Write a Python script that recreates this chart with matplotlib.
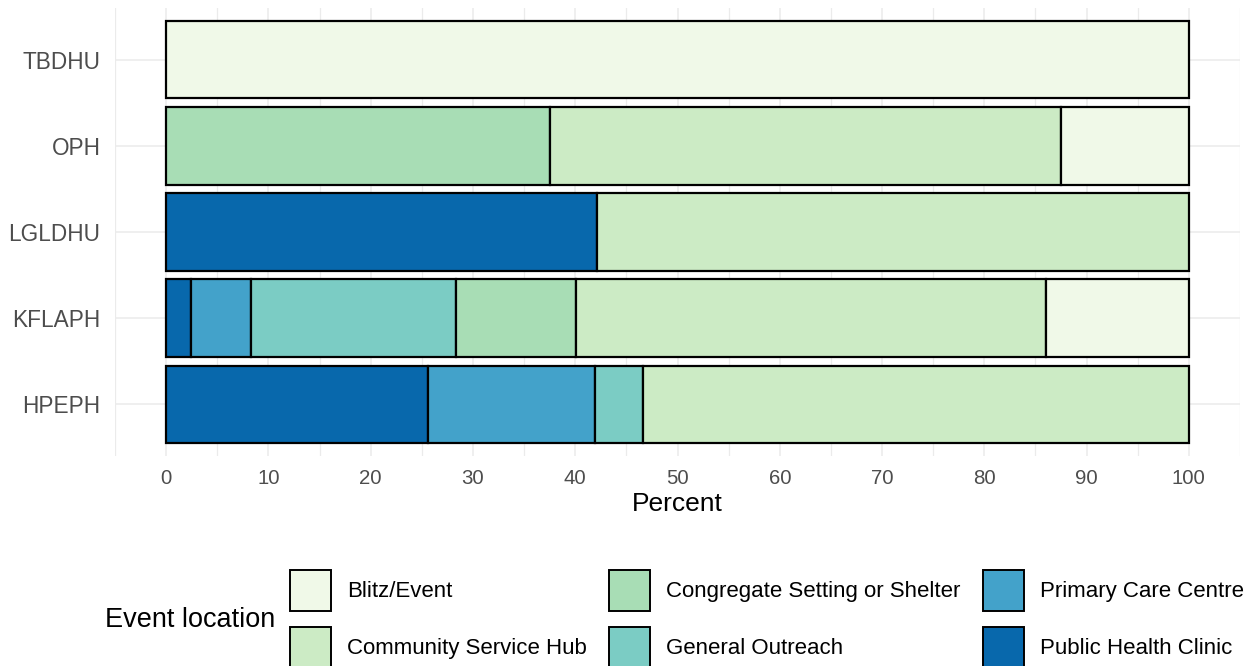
import numpy as np
import matplotlib
matplotlib.use("Agg")
import matplotlib.pyplot as plt
from matplotlib.patches import Patch

plt.rcParams['font.family'] = ['Liberation Sans', 'DejaVu Sans']

# ---- data ----
units = ["HPEPH", "KFLAPH", "LGLDHU", "OPH", "TBDHU"]  # bottom -> top
public_health_clinic = [25.6, 2.4, 42.1, 0.0, 0.0]
primary_care_centre = [16.3, 5.9, 0.0, 0.0, 0.0]
general_outreach = [4.7, 20.0, 0.0, 0.0, 0.0]
congregate_setting = [0.0, 11.8, 0.0, 37.5, 0.0]
community_service_hub = [53.4, 45.9, 57.9, 50.0, 0.0]
blitz_event = [0.0, 14.0, 0.0, 12.5, 100.0]

# stacking order left -> right
stack_names = ["Public Health Clinic", "Primary Care Centre", "General Outreach",
               "Congregate Setting or Shelter", "Community Service Hub", "Blitz/Event"]
stack_values = [public_health_clinic, primary_care_centre, general_outreach,
                congregate_setting, community_service_hub, blitz_event]
colors = {
    "Blitz/Event": "#f0f9e8",
    "Community Service Hub": "#ccebc5",
    "Congregate Setting or Shelter": "#a8ddb5",
    "General Outreach": "#7bccc4",
    "Primary Care Centre": "#43a2ca",
    "Public Health Clinic": "#0868ac",
}
legend_order = ["Blitz/Event", "Community Service Hub", "Congregate Setting or Shelter",
                "General Outreach", "Primary Care Centre", "Public Health Clinic"]
x_ticks = [0, 10, 20, 30, 40, 50, 60, 70, 80, 90, 100]

# ---- figure ----
W, H = 1259, 666
fig = plt.figure(figsize=(W / 100, H / 100), dpi=100)
ax = fig.add_axes([115 / W, 1 - 456 / H, 1125 / W, 448 / H])

ypos = np.arange(len(units))
left = np.zeros(len(units))
for name, vals in zip(stack_names, stack_values):
    vals = np.asarray(vals, dtype=float)
    m = vals > 0
    ax.barh(ypos[m], vals[m], left=left[m], height=0.9, color=colors[name],
            edgecolor="black", linewidth=1.6, zorder=3)
    left += vals

ax.set_xlim(-5, 105)
ax.set_ylim(-0.6, len(units) - 0.4)
ax.set_xticks(x_ticks)
ax.set_xticks(np.arange(-5, 106, 10), minor=True)
ax.set_yticks(ypos)
ax.set_yticklabels(units)
ax.grid(True, which="major", axis="both", color="#ebebeb", linewidth=1.1, zorder=0)
ax.grid(True, which="minor", axis="x", color="#ebebeb", linewidth=0.9, zorder=0)
for s in ax.spines.values():
    s.set_visible(False)
ax.tick_params(axis="both", which="both", length=0, labelcolor="#4d4d4d")
ax.tick_params(axis="x", labelsize=14.7, pad=9)
ax.tick_params(axis="y", labelsize=16.3, pad=10.5)
ax.set_xlabel("Percent", fontsize=19, labelpad=3.5, color="black")

handles = [Patch(facecolor=colors[n], edgecolor="black", linewidth=1.4) for n in legend_order]
fig.legend(handles, legend_order, ncol=3, loc="upper left",
           bbox_to_anchor=(290 / W, 1 - 570 / H), frameon=False, fontsize=16,
           handlelength=1.85, handleheight=2.465, labelspacing=0.72,
           handletextpad=0.72, columnspacing=1.0, borderpad=0, borderaxespad=0)
fig.text(105 / W, 1 - 620 / H, "Event location", fontsize=19.5, ha="left", va="center")

fig.savefig("out.png", dpi=100)
